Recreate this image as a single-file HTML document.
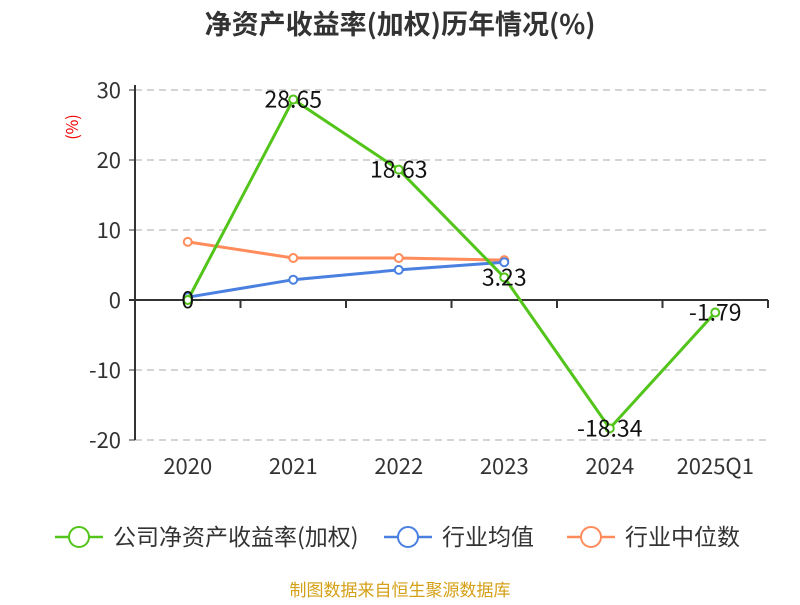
<!DOCTYPE html>
<html><head><meta charset="utf-8"><style>
body{margin:0;background:#fff;font-family:"Liberation Sans","Noto Sans CJK SC",sans-serif;}
svg text{font-family:"Noto Sans CJK SC","Liberation Sans",sans-serif;}
</style></head><body>
<svg id="c" width="800" height="600">
<text x="400" y="34" text-anchor="middle" font-size="27" font-weight="bold" fill="#333">净资产收益率(加权)历年情况(%)</text>
<text transform="translate(78,127) rotate(-90)" text-anchor="middle" font-size="16" fill="#e00">(%)</text>
<g id="grid"></g><g id="axes"></g><g id="series"></g>
<g font-size="23" fill="#333">
<g><line x1="55" y1="537" x2="103" y2="537" stroke="#52c41a" stroke-width="2.5"/><circle cx="79" cy="537" r="10" fill="#fff" stroke="#52c41a" stroke-width="2"/><text x="113" y="545">公司净资产收益率(加权)</text></g>
<g><line x1="384" y1="537" x2="432" y2="537" stroke="#4a80e0" stroke-width="2.5"/><circle cx="408" cy="537" r="10" fill="#fff" stroke="#4a80e0" stroke-width="2"/><text x="442" y="545">行业均值</text></g>
<g><line x1="567" y1="537" x2="615" y2="537" stroke="#ff8c5a" stroke-width="2.5"/><circle cx="591" cy="537" r="10" fill="#fff" stroke="#ff8c5a" stroke-width="2"/><text x="625" y="545">行业中位数</text></g>
</g>
<text x="400" y="596" text-anchor="middle" font-size="17" fill="#d4a017">制图数据来自恒生聚源数据库</text>
</svg>
<script>
const categories=["2020","2021","2022","2023","2024","2025Q1"];
const roe=[0,28.65,18.63,3.23,-18.34,-1.79];
const roeLabels=["0","28.65","18.63","3.23","-18.34","-1.79"];
const industryAvg=[0.4,2.9,4.3,5.4];
const industryMedian=[8.3,6.0,6.0,5.7];
const yTicks=[30,20,10,0,-10,-20];
const NS="http://www.w3.org/2000/svg";
const L=135,R=768,band=(R-L)/categories.length;
const x=i=>L+band*(i+0.5);
const y=v=>300-v*7;
function mk(p,t,a){const e=document.createElementNS(NS,t);for(const k in a)e.setAttribute(k,a[k]);p.appendChild(e);return e;}
const G=document.getElementById('grid'),A=document.getElementById('axes'),S=document.getElementById('series');
yTicks.forEach(v=>{
 if(v!==0){const l=mk(G,'line',{x1:L,x2:R,y1:y(v),y2:y(v),stroke:'#bbb','stroke-dasharray':'7,5','stroke-width':1.3});
 
 }
 const t=mk(A,'text',{x:L-14,y:y(v)+8,'text-anchor':'end','font-size':22,fill:'#333'});t.textContent=v;
 
 
 mk(A,'line',{x1:L-6,x2:L,y1:y(v),y2:y(v),stroke:'#333','stroke-width':1});
});
const ya=mk(A,'line',{x1:L,x2:L,y1:y(30)-5,y2:y(-20),stroke:'#333','stroke-width':2});


const xa=mk(A,'line',{x1:L-6,x2:R,y1:y(0),y2:y(0),stroke:'#333','stroke-width':2});


categories.forEach((c,i)=>{
 mk(A,'line',{x1:L+band*(i+1),x2:L+band*(i+1),y1:y(0),y2:y(0)+8,stroke:'#333','stroke-width':2});
 const t=mk(A,'text',{x:x(i),y:474,'text-anchor':'middle','font-size':22,fill:'#333'});t.textContent=c;
 
 
});
function series(vals,color,name){
 const p=mk(S,'polyline',{points:vals.map((v,i)=>x(i)+','+y(v)).join(' '),fill:'none',stroke:color,'stroke-width':3});
 
 
 vals.forEach((v,i)=>{const c=mk(S,'circle',{cx:x(i),cy:y(v),r:4,fill:'#fff',stroke:color,'stroke-width':2});
 
 });
}
series(industryMedian,'#ff8c5a','industry-median');
series(industryAvg,'#4a80e0','industry-avg');
series(roe,'#52c41a','roe');
roe.forEach((v,i)=>{const t=mk(S,'text',{x:x(i),y:y(v)+8,'text-anchor':'middle','font-size':23,fill:'#111'});t.textContent=roeLabels[i];
 
 });
</script>
</body></html>
